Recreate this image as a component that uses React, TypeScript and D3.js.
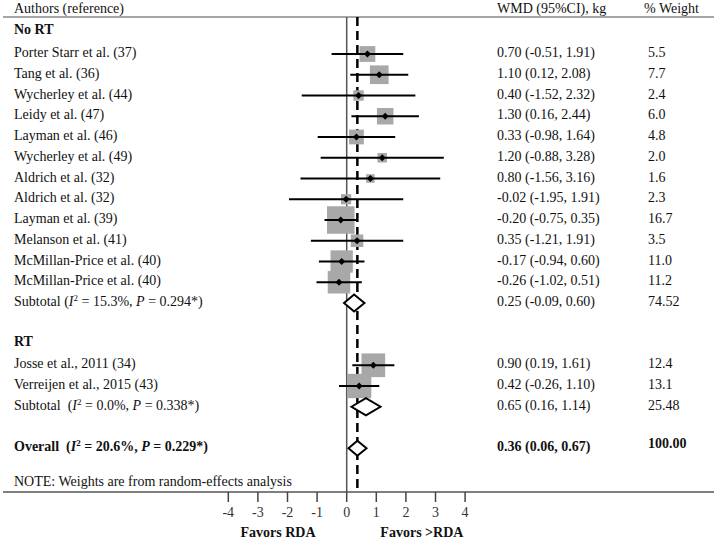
import React from "react";
import * as d3 from "d3";

// study rows, group "No RT"
const noRtStudies = [
  "Porter Starr et al. (37)",
  "Tang et al. (36)",
  "Wycherley et al. (44)",
  "Leidy et al. (47)",
  "Layman et al. (46)",
  "Wycherley et al. (49)",
  "Aldrich et al. (32)",
  "Aldrich et al. (32)",
  "Layman et al. (39)",
  "Melanson et al. (41)",
  "McMillan-Price et al. (40)",
  "McMillan-Price et al. (40)",
];
const noRtWmd = [0.7, 1.1, 0.4, 1.3, 0.33, 1.2, 0.8, -0.02, -0.2, 0.35, -0.17, -0.26];
const noRtLow = [-0.51, 0.12, -1.52, 0.16, -0.98, -0.88, -1.56, -1.95, -0.75, -1.21, -0.94, -1.02];
const noRtHigh = [1.91, 2.08, 2.32, 2.44, 1.64, 3.28, 3.16, 1.91, 0.35, 1.91, 0.6, 0.51];
const noRtWeight = ["5.5", "7.7", "2.4", "6.0", "4.8", "2.0", "1.6", "2.3", "16.7", "3.5", "11.0", "11.2"];

// study rows, group "RT"
const rtStudies = ["Josse et al., 2011 (34)", "Verreijen et al., 2015 (43)"];
const rtWmd = [0.9, 0.42];
const rtLow = [0.19, -0.26];
const rtHigh = [1.61, 1.1];
const rtWeight = ["12.4", "13.1"];

// pooled estimates: [estimate, low, high]
const noRtSubtotal = [0.25, -0.09, 0.6];
const rtSubtotal = [0.65, 0.16, 1.14];
const overall = [0.36, 0.06, 0.67];
const noRtSubWeight = "74.52";
const rtSubWeight = "25.48";
const overallWeight = "100.00";
const noRtStats = { i2: "15.3%", p: "0.294*" };
const rtStats = { i2: "0.0%", p: "0.338*" };
const overallStats = { i2: "20.6%", p: "0.229*" };

const xTicks = [-4, -3, -2, -1, 0, 1, 2, 3, 4];

const W = 714;
const H = 539;
const FONT = "'Liberation Serif', 'Times New Roman', serif";
const FS = 14;

const x = d3.scaleLinear().domain([-4, 4]).range([228.3, 465.1]);
const y = d3.scaleLinear().domain([1, 20]).range([54, 448.25]);
const boxSide = d3.scaleSqrt().domain([0, 16.7]).range([0, 27.5]);

// plain hyphen for negatives, like the original
const fmt = (v: number) => d3.format(".2f")(v).replace("\u2212", "-");
const ciText = (e: number, l: number, h: number) => `${fmt(e)} (${fmt(l)}, ${fmt(h)})`;

const diamondPath = (e: number, l: number, h: number, cy: number, hh: number) =>
  `M${x(l)},${cy}L${x(e)},${cy - hh}L${x(h)},${cy}L${x(e)},${cy + hh}Z`;

const StatsLabel: React.FC<{
  label: string;
  stats: { i2: string; p: string };
  cy: number;
  bold?: boolean;
  gap?: string;
}> = ({ label, stats, cy, bold, gap = "\u00a0\u00a0" }) => (
  <text x={14} y={cy + 3} fontWeight={bold ? "bold" : "normal"}>
    {label}
    {`${gap}(`}
    <tspan fontStyle="italic">I</tspan>
    <tspan dy={-5} fontSize={9}>2</tspan>
    <tspan dy={5}>{` = ${stats.i2}, `}</tspan>
    <tspan fontStyle="italic">P</tspan>
    {` = ${stats.p})`}
  </text>
);

const StudyRow: React.FC<{
  name: string;
  wmd: number;
  low: number;
  high: number;
  weight: string;
  cy: number;
}> = ({ name, wmd, low, high, weight, cy }) => {
  const s = boxSide(+weight);
  const cx = x(wmd);
  return (
    <g>
      <text x={14} y={cy + 3}>{name}</text>
      <rect x={cx - s / 2} y={cy - s / 2} width={s} height={s} fill="#a8a8a8" />
      <line x1={x(low)} x2={x(high)} y1={cy} y2={cy} stroke="#000" strokeWidth={2} />
      <path
        d={`M${cx - 3.5},${cy}L${cx},${cy - 3.5}L${cx + 3.5},${cy}L${cx},${cy + 3.5}Z`}
        fill="#000"
      />
      <text x={497} y={cy + 3}>{ciText(wmd, low, high)}</text>
      <text x={648} y={cy + 3}>{weight}</text>
    </g>
  );
};

const App: React.FC = () => {
  const topY = 17;
  const axisY = 492;
  const noRtRows = noRtStudies.map((_, i) => i + 1);
  const rtRows = rtStudies.map((_, i) => i + 16);

  return (
    <svg
      width={W}
      height={H}
      style={{ position: "absolute", left: 0, top: 0, background: "#fff" }}
      fontFamily={FONT}
      fontSize={FS}
      fill="#111"
    >
      {/* header */}
      <text x={14} y={13}>Authors (reference)</text>
      <text x={497} y={13}>WMD (95%CI), kg</text>
      <text x={644} y={13}>% Weight</text>
      <line x1={3} x2={W} y1={topY} y2={topY} stroke="#888" strokeWidth={1.5} />

      {/* reference lines */}
      <line x1={x(0)} x2={x(0)} y1={topY} y2={axisY} stroke="#555" strokeWidth={1.5} />
      <line
        x1={x(overall[0])}
        x2={x(overall[0])}
        y1={topY}
        y2={axisY}
        stroke="#000"
        strokeWidth={2.5}
        strokeDasharray="9,5"
      />

      {/* No RT */}
      <text x={14} y={y(0) + 1} fontWeight="bold">No RT</text>
      {noRtStudies.map((name, i) => (
        <StudyRow
          key={`n${i}`}
          name={name}
          wmd={noRtWmd[i]}
          low={noRtLow[i]}
          high={noRtHigh[i]}
          weight={noRtWeight[i]}
          cy={y(noRtRows[i])}
        />
      ))}
      <StatsLabel label="Subtotal" stats={noRtStats} cy={y(13)} gap=" " />
      <path d={diamondPath(noRtSubtotal[0], noRtSubtotal[1], noRtSubtotal[2], y(13), 8.5)} fill="#fff" stroke="#000" strokeWidth={2} />
      <text x={497} y={y(13) + 3}>{ciText(noRtSubtotal[0], noRtSubtotal[1], noRtSubtotal[2])}</text>
      <text x={648} y={y(13) + 3}>{noRtSubWeight}</text>

      {/* RT */}
      <text x={14} y={y(15) + 1} fontWeight="bold">RT</text>
      {rtStudies.map((name, i) => (
        <StudyRow
          key={`r${i}`}
          name={name}
          wmd={rtWmd[i]}
          low={rtLow[i]}
          high={rtHigh[i]}
          weight={rtWeight[i]}
          cy={y(rtRows[i])}
        />
      ))}
      <StatsLabel label="Subtotal" stats={rtStats} cy={y(18)} />
      <path d={diamondPath(rtSubtotal[0], rtSubtotal[1], rtSubtotal[2], y(18), 8.5)} fill="#fff" stroke="#000" strokeWidth={2} />
      <text x={497} y={y(18) + 3}>{ciText(rtSubtotal[0], rtSubtotal[1], rtSubtotal[2])}</text>
      <text x={648} y={y(18) + 3}>{rtSubWeight}</text>

      {/* Overall */}
      <StatsLabel label="Overall" stats={overallStats} cy={y(20)} bold />
      <path d={diamondPath(overall[0], overall[1], overall[2], y(20), 7.5)} fill="#fff" stroke="#000" strokeWidth={2} />
      <text x={497} y={y(20) + 3} fontWeight="bold">{ciText(overall[0], overall[1], overall[2])}</text>
      <text x={648} y={y(20)} fontWeight="bold">{overallWeight}</text>

      <text x={14} y={486}>NOTE: Weights are from random-effects analysis</text>

      {/* axis */}
      <line x1={3} x2={W} y1={axisY} y2={axisY} stroke="#555" strokeWidth={1.5} />
      {xTicks.map((t) => (
        <g key={t}>
          <line x1={x(t)} x2={x(t)} y1={axisY} y2={axisY + 10} stroke="#444" strokeWidth={1.5} />
          <text x={x(t)} y={517} textAnchor="middle" fill="#333">{t}</text>
        </g>
      ))}
      <text x={x(-2.32)} y={537} textAnchor="middle" fontWeight="bold">Favors RDA</text>
      <text x={x(2.54)} y={537} textAnchor="middle" fontWeight="bold">Favors &gt;RDA</text>
    </svg>
  );
};

export default App;
